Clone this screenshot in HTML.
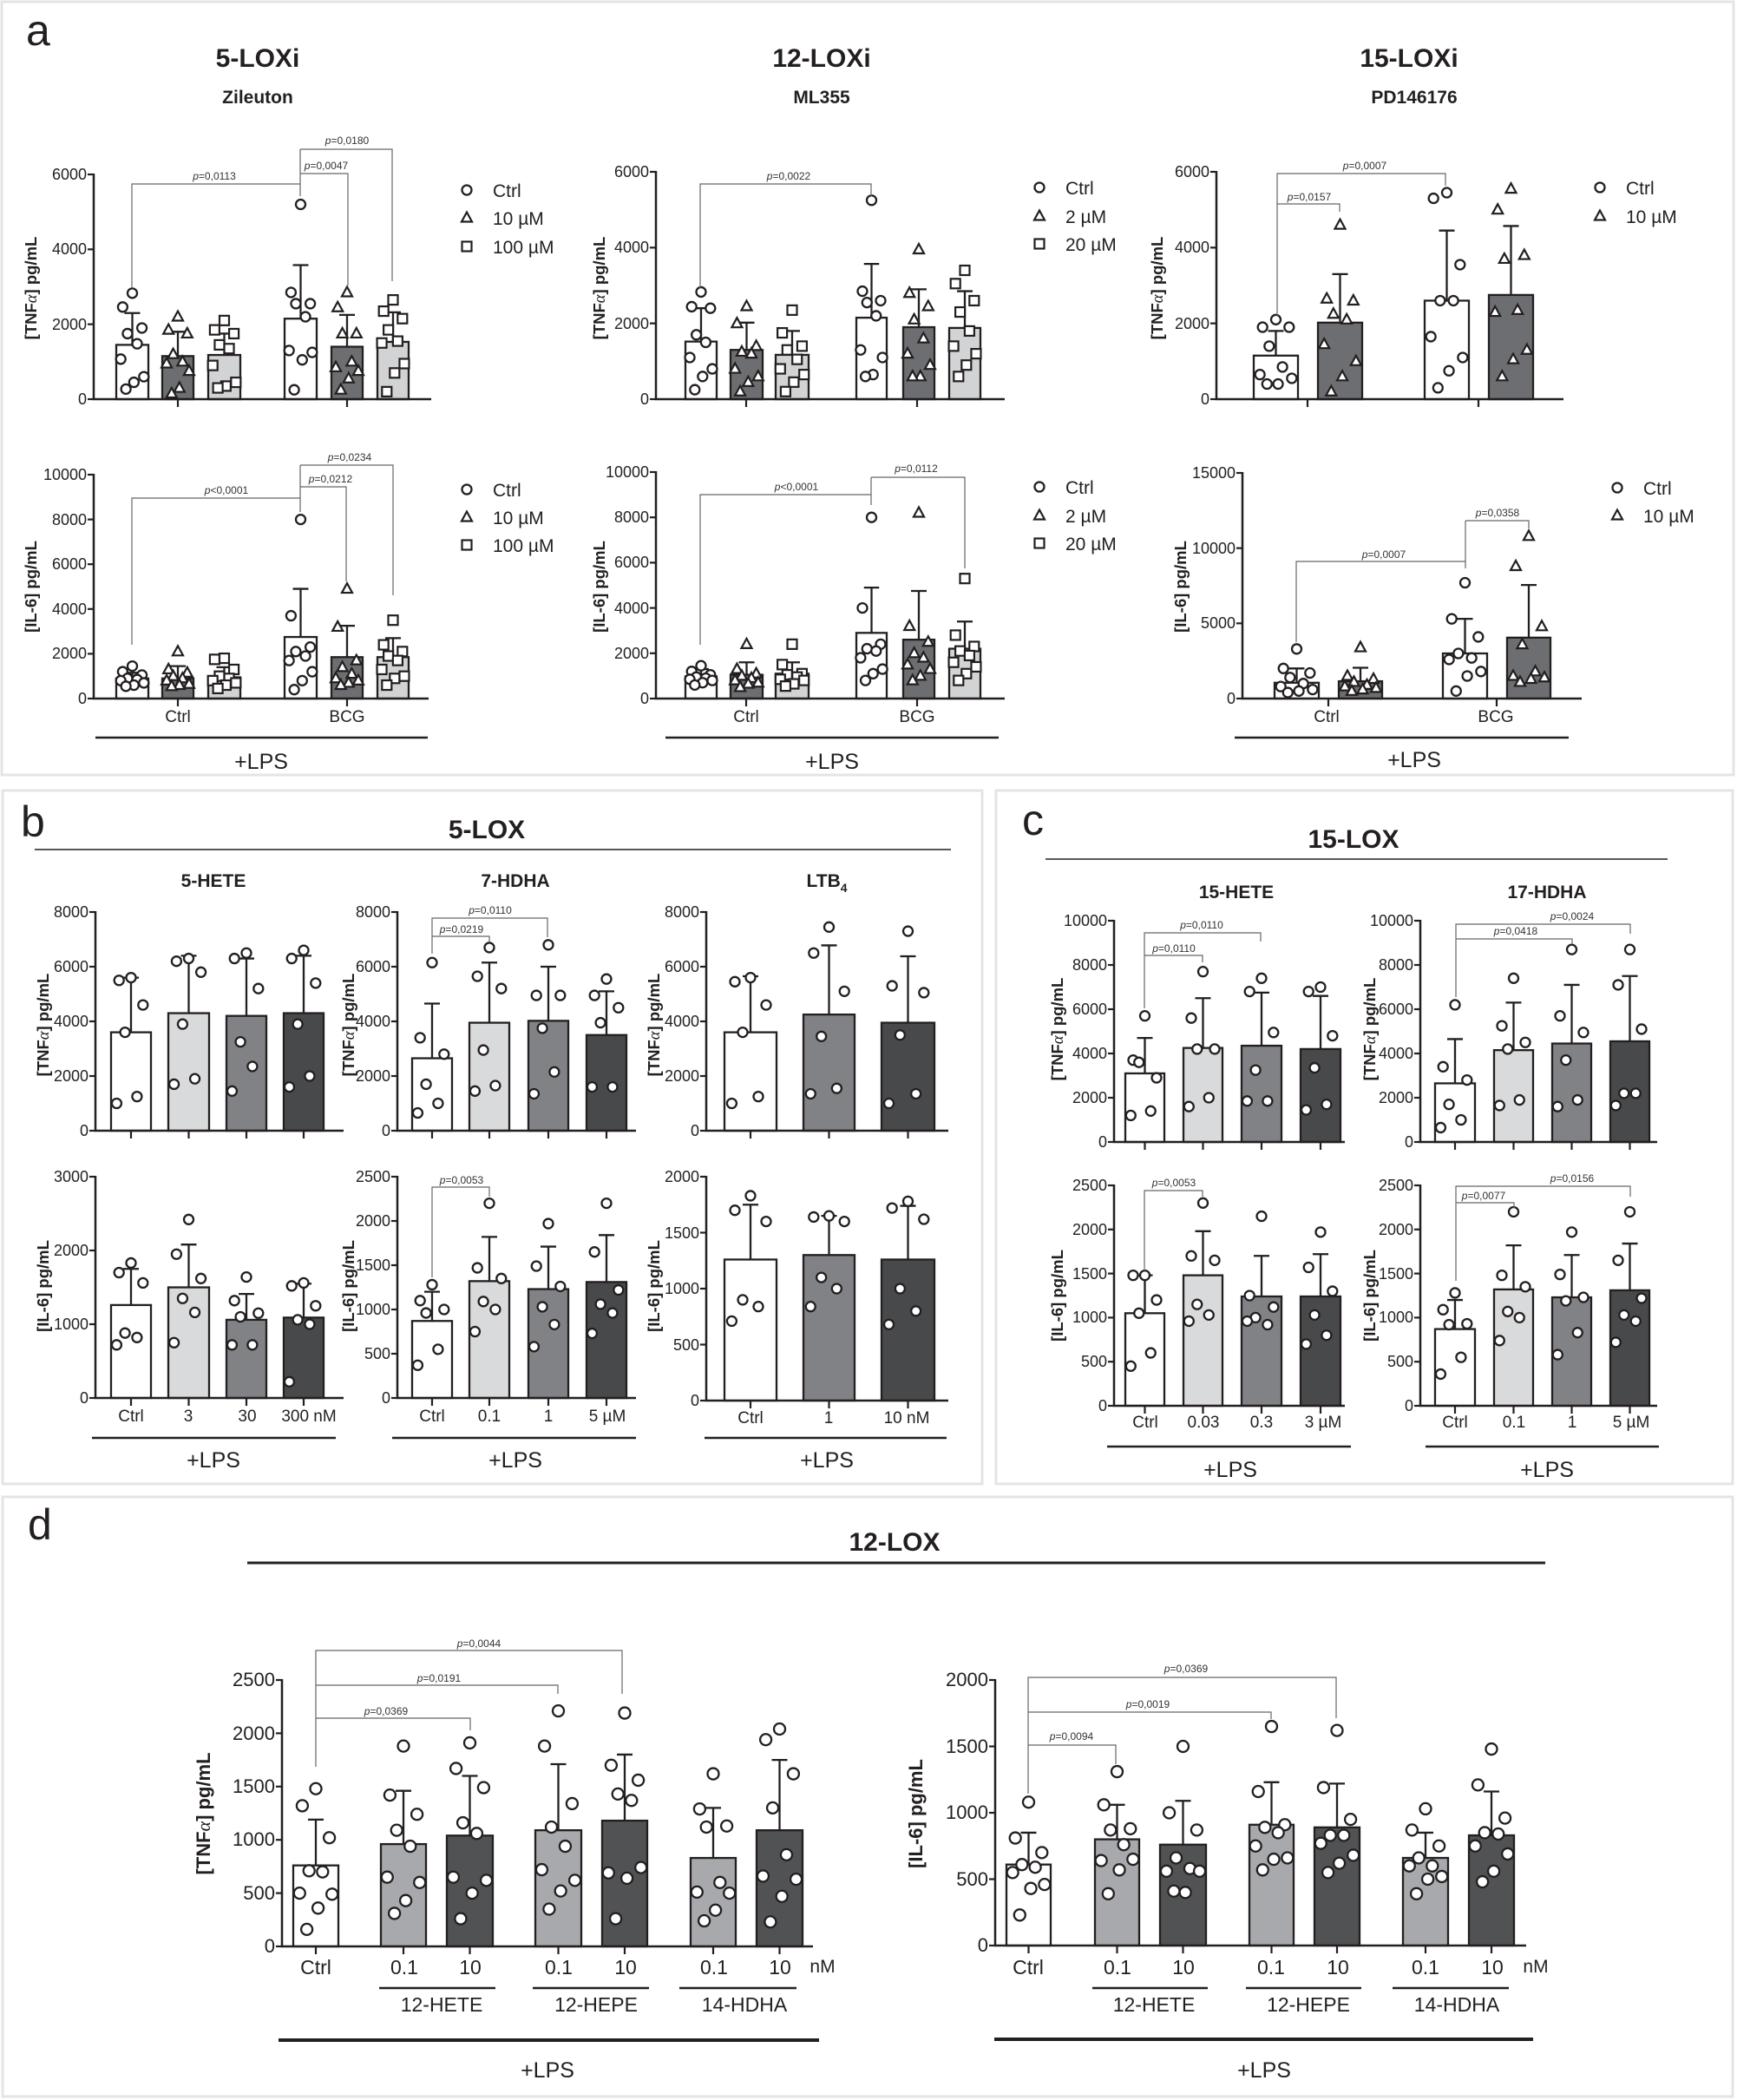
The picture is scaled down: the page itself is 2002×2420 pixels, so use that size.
<!DOCTYPE html>
<html><head><meta charset="utf-8"><style>
html,body{margin:0;padding:0;background:#fff}
svg{display:block}
text{font-family:"Liberation Sans",Arial,sans-serif;fill:#231f20}
.t{font-size:18px;text-anchor:end}
.b{font-weight:bold}
.p{font-size:12px;text-anchor:middle;fill:#333}
.p tspan{font-style:italic}
.lg{font-size:21px}
.yl{font-size:18.5px;font-weight:bold;text-anchor:middle}
.xl{font-size:19px;text-anchor:middle}
.lps{font-size:25px;text-anchor:middle}
.ti{font-size:30px;font-weight:bold;text-anchor:middle}
.st{font-size:21px;font-weight:bold;text-anchor:middle}
.pl{font-size:50px}
.br{fill:none;stroke:#666;stroke-width:1.2}
.al{font-family:"Liberation Serif",serif;font-style:italic;font-weight:normal}
</style></head><body>
<svg id="s" width="2002" height="2420" viewBox="0 0 2002 2420" xmlns="http://www.w3.org/2000/svg">
<rect width="2002" height="2420" fill="#fff"/>
<g fill="none" stroke="#e3e4e5" stroke-width="3">
<rect x="2" y="2" width="1996" height="891"/>
<rect x="3" y="911" width="1129" height="799"/>
<rect x="1148" y="911" width="849" height="799"/>
<rect x="3" y="1725" width="1994" height="691"/>
</g>
<g id="g"></g>
<g class="br">
<path d="M152 332V212H346M346 172V226M346 200H401V329M346 172H452V324"/>
<path d="M152 743V574H346M346 536V590M346 561H399V670M346 536H453V686"/>
<path d="M807 332V212H1004V226"/>
<path d="M807 743V570H1004M1004 550V582M1004 550H1112V655"/>
<path d="M1472 364V200H1666V214M1472 235H1544V244"/>
<path d="M1494 740V647H1689M1689 600V655M1689 600H1762V609"/>
<path d="M498 1099V1058H631V1080M498 1079H564V1085"/>
<path d="M498 1472V1368H564V1379"/>
<path d="M1319 1162V1075H1453V1085M1319 1101H1386V1109"/>
<path d="M1319 1464V1372H1386V1379"/>
<path d="M1678 1149V1065H1879V1076M1678 1082H1812V1088"/>
<path d="M1678 1476V1367H1879V1379M1678 1386H1745V1392"/>
<path d="M364 2036V1902H717V1952M364 1942H643V1952M364 1980H542V1994"/>
<path d="M1185 2067V1933H1540V1980M1185 1973H1465V1981M1185 2011H1286V2033"/>
</g>
<g>
<text class="p" x="247" y="207"><tspan>p</tspan>=0,0113</text>
<text class="p" x="376" y="195"><tspan>p</tspan>=0,0047</text>
<text class="p" x="400" y="166"><tspan>p</tspan>=0,0180</text>
<text class="p" x="261" y="569"><tspan>p</tspan>&lt;0,0001</text>
<text class="p" x="381" y="556"><tspan>p</tspan>=0,0212</text>
<text class="p" x="403" y="531"><tspan>p</tspan>=0,0234</text>
<text class="p" x="909" y="207"><tspan>p</tspan>=0,0022</text>
<text class="p" x="918" y="565"><tspan>p</tspan>&lt;0,0001</text>
<text class="p" x="1056" y="544"><tspan>p</tspan>=0,0112</text>
<text class="p" x="1573" y="195"><tspan>p</tspan>=0,0007</text>
<text class="p" x="1509" y="231"><tspan>p</tspan>=0,0157</text>
<text class="p" x="1595" y="643"><tspan>p</tspan>=0,0007</text>
<text class="p" x="1726" y="595"><tspan>p</tspan>=0,0358</text>
<text class="p" x="565" y="1053"><tspan>p</tspan>=0,0110</text>
<text class="p" x="532" y="1075"><tspan>p</tspan>=0,0219</text>
<text class="p" x="532" y="1364"><tspan>p</tspan>=0,0053</text>
<text class="p" x="1385" y="1070"><tspan>p</tspan>=0,0110</text>
<text class="p" x="1353" y="1097"><tspan>p</tspan>=0,0110</text>
<text class="p" x="1353" y="1367"><tspan>p</tspan>=0,0053</text>
<text class="p" x="1812" y="1060"><tspan>p</tspan>=0,0024</text>
<text class="p" x="1747" y="1077"><tspan>p</tspan>=0,0418</text>
<text class="p" x="1812" y="1362"><tspan>p</tspan>=0,0156</text>
<text class="p" x="1710" y="1382"><tspan>p</tspan>=0,0077</text>
<text class="p" x="552" y="1898"><tspan>p</tspan>=0,0044</text>
<text class="p" x="506" y="1938"><tspan>p</tspan>=0,0191</text>
<text class="p" x="445" y="1976"><tspan>p</tspan>=0,0369</text>
<text class="p" x="1367" y="1927"><tspan>p</tspan>=0,0369</text>
<text class="p" x="1323" y="1968"><tspan>p</tspan>=0,0019</text>
<text class="p" x="1235" y="2005"><tspan>p</tspan>=0,0094</text>
</g>
<text class="pl" x="30" y="52">a</text>
<text class="pl" x="24" y="964">b</text>
<text class="pl" x="1178" y="962">c</text>
<text class="pl" x="32" y="1774">d</text>
<text class="ti" x="297" y="77">5-LOXi</text>
<text class="ti" x="947" y="77">12-LOXi</text>
<text class="ti" x="1624" y="77">15-LOXi</text>
<text class="st" x="297" y="119">Zileuton</text>
<text class="st" x="947" y="119">ML355</text>
<text class="st" x="1630" y="119">PD146176</text>
<text class="ti" x="561" y="966">5-LOX</text>
<text class="ti" x="1560" y="977">15-LOX</text>
<text class="ti" x="1031" y="1787">12-LOX</text>
<g stroke="#231f20" stroke-width="1.5"><line x1="40" y1="979" x2="1096" y2="979"/><line x1="1205" y1="990" x2="1922" y2="990"/></g>
<line x1="285" y1="1801" x2="1781" y2="1801" stroke="#231f20" stroke-width="3"/>
<text class="st" x="246" y="1022">5-HETE</text>
<text class="st" x="594" y="1022">7-HDHA</text>
<text class="st" x="953" y="1022">LTB<tspan font-size="14" dy="6">4</tspan></text>
<text class="st" x="1425" y="1035">15-HETE</text>
<text class="st" x="1783" y="1035">17-HDHA</text>
<g class="lg">
<text x="568" y="227">Ctrl</text><text x="568" y="259">10 µM</text><text x="568" y="292">100 µM</text>
<text x="568" y="572">Ctrl</text><text x="568" y="604">10 µM</text><text x="568" y="636">100 µM</text>
<text x="1228" y="224">Ctrl</text><text x="1228" y="257">2 µM</text><text x="1228" y="289">20 µM</text>
<text x="1228" y="569">Ctrl</text><text x="1228" y="602">2 µM</text><text x="1228" y="634">20 µM</text>
<text x="1874" y="224">Ctrl</text><text x="1874" y="257">10 µM</text>
<text x="1894" y="570">Ctrl</text><text x="1894" y="602">10 µM</text>
</g>
<g class="yl">
<text transform="translate(42,332) rotate(-90)">[TNF<tspan class="al">α</tspan>] pg/mL</text>
<text transform="translate(42,676) rotate(-90)">[IL-6] pg/mL</text>
<text transform="translate(697,332) rotate(-90)">[TNF<tspan class="al">α</tspan>] pg/mL</text>
<text transform="translate(697,676) rotate(-90)">[IL-6] pg/mL</text>
<text transform="translate(1340,332) rotate(-90)">[TNF<tspan class="al">α</tspan>] pg/mL</text>
<text transform="translate(1367,676) rotate(-90)">[IL-6] pg/mL</text>
<text transform="translate(56,1181) rotate(-90)">[TNF<tspan class="al">α</tspan>] pg/mL</text>
<text transform="translate(56,1482) rotate(-90)">[IL-6] pg/mL</text>
<text transform="translate(408,1181) rotate(-90)">[TNF<tspan class="al">α</tspan>] pg/mL</text>
<text transform="translate(408,1482) rotate(-90)">[IL-6] pg/mL</text>
<text transform="translate(760,1181) rotate(-90)">[TNF<tspan class="al">α</tspan>] pg/mL</text>
<text transform="translate(760,1482) rotate(-90)">[IL-6] pg/mL</text>
<text transform="translate(1225,1186) rotate(-90)">[TNF<tspan class="al">α</tspan>] pg/mL</text>
<text transform="translate(1225,1493) rotate(-90)">[IL-6] pg/mL</text>
<text transform="translate(1585,1186) rotate(-90)">[TNF<tspan class="al">α</tspan>] pg/mL</text>
<text transform="translate(1585,1493) rotate(-90)">[IL-6] pg/mL</text>
<text style="font-size:22px" transform="translate(242,2090) rotate(-90)">[TNF<tspan class="al">α</tspan>] pg/mL</text>
<text style="font-size:22px" transform="translate(1063,2090) rotate(-90)">[IL-6] pg/mL</text>
</g>
<g class="t">
<text x="100" y="466">0</text><text x="100" y="380">2000</text><text x="100" y="293">4000</text><text x="100" y="207">6000</text>
<text x="100" y="811">0</text><text x="100" y="759">2000</text><text x="100" y="708">4000</text><text x="100" y="656">6000</text><text x="100" y="605">8000</text><text x="100" y="553">10000</text>
<text x="748" y="466">0</text><text x="748" y="379">2000</text><text x="748" y="291">4000</text><text x="748" y="204">6000</text>
<text x="748" y="811">0</text><text x="748" y="759">2000</text><text x="748" y="707">4000</text><text x="748" y="654">6000</text><text x="748" y="602">8000</text><text x="748" y="550">10000</text>
<text x="1394" y="466">0</text><text x="1394" y="379">2000</text><text x="1394" y="291">4000</text><text x="1394" y="204">6000</text>
<text x="1424" y="811">0</text><text x="1424" y="724">5000</text><text x="1424" y="638">10000</text><text x="1424" y="551">15000</text>
<text x="102" y="1309">0</text><text x="102" y="1246">2000</text><text x="102" y="1183">4000</text><text x="102" y="1120">6000</text><text x="102" y="1057">8000</text>
<text x="102" y="1617">0</text><text x="102" y="1532">1000</text><text x="102" y="1447">2000</text><text x="102" y="1362">3000</text>
<text x="450" y="1309">0</text><text x="450" y="1246">2000</text><text x="450" y="1183">4000</text><text x="450" y="1120">6000</text><text x="450" y="1057">8000</text>
<text x="450" y="1617">0</text><text x="450" y="1566">500</text><text x="450" y="1515">1000</text><text x="450" y="1464">1500</text><text x="450" y="1413">2000</text><text x="450" y="1362">2500</text>
<text x="806" y="1309">0</text><text x="806" y="1246">2000</text><text x="806" y="1183">4000</text><text x="806" y="1120">6000</text><text x="806" y="1057">8000</text>
<text x="806" y="1620">0</text><text x="806" y="1556">500</text><text x="806" y="1491">1000</text><text x="806" y="1427">1500</text><text x="806" y="1362">2000</text>
<text x="1276" y="1322">0</text><text x="1276" y="1271">2000</text><text x="1276" y="1220">4000</text><text x="1276" y="1169">6000</text><text x="1276" y="1118">8000</text><text x="1276" y="1067">10000</text>
<text x="1276" y="1626">0</text><text x="1276" y="1575">500</text><text x="1276" y="1524">1000</text><text x="1276" y="1474">1500</text><text x="1276" y="1423">2000</text><text x="1276" y="1372">2500</text>
<text x="1629" y="1322">0</text><text x="1629" y="1271">2000</text><text x="1629" y="1220">4000</text><text x="1629" y="1169">6000</text><text x="1629" y="1118">8000</text><text x="1629" y="1067">10000</text>
<text x="1629" y="1626">0</text><text x="1629" y="1575">500</text><text x="1629" y="1524">1000</text><text x="1629" y="1474">1500</text><text x="1629" y="1423">2000</text><text x="1629" y="1372">2500</text>
</g>
<g class="t" style="font-size:22px">
<text x="317" y="2250">0</text><text x="317" y="2189">500</text><text x="317" y="2127">1000</text><text x="317" y="2066">1500</text><text x="317" y="2005">2000</text><text x="317" y="1943">2500</text>
<text x="1139" y="2249">0</text><text x="1139" y="2173">500</text><text x="1139" y="2096">1000</text><text x="1139" y="2020">1500</text><text x="1139" y="1943">2000</text>
</g>
<g class="xl">
<text x="205" y="832">Ctrl</text><text x="400" y="832">BCG</text>
<text x="860" y="832">Ctrl</text><text x="1057" y="832">BCG</text>
<text x="1529" y="832">Ctrl</text><text x="1724" y="832">BCG</text>
<text x="151" y="1638">Ctrl</text><text x="217" y="1638">3</text><text x="285" y="1638">30</text><text x="356" y="1638">300 nM</text>
<text x="498" y="1638">Ctrl</text><text x="564" y="1638">0.1</text><text x="632" y="1638">1</text><text x="700" y="1638">5 µM</text>
<text x="865" y="1640">Ctrl</text><text x="955" y="1640">1</text><text x="1045" y="1640">10 nM</text>
<text x="1320" y="1645">Ctrl</text><text x="1387" y="1645">0.03</text><text x="1454" y="1645">0.3</text><text x="1525" y="1645">3 µM</text>
<text x="1677" y="1645">Ctrl</text><text x="1745" y="1645">0.1</text><text x="1812" y="1645">1</text><text x="1880" y="1645">5 µM</text>
</g>
<g class="xl" style="font-size:23px">
<text x="364" y="2275">Ctrl</text><text x="466" y="2275">0.1</text><text x="542" y="2275">10</text><text x="644" y="2275">0.1</text><text x="721" y="2275">10</text><text x="823" y="2275">0.1</text><text x="899" y="2275">10</text><text x="948" y="2273" style="font-size:21px">nM</text>
<text x="1185" y="2275">Ctrl</text><text x="1288" y="2275">0.1</text><text x="1364" y="2275">10</text><text x="1465" y="2275">0.1</text><text x="1542" y="2275">10</text><text x="1643" y="2275">0.1</text><text x="1720" y="2275">10</text><text x="1770" y="2273" style="font-size:21px">nM</text>
<text x="509" y="2318">12-HETE</text><text x="687" y="2318">12-HEPE</text><text x="858" y="2318">14-HDHA</text>
<text x="1330" y="2318">12-HETE</text><text x="1508" y="2318">12-HEPE</text><text x="1679" y="2318">14-HDHA</text>
</g>
<g stroke="#231f20" stroke-width="2.5">
<line x1="110" y1="850" x2="493" y2="850"/><line x1="767" y1="850" x2="1151" y2="850"/><line x1="1423" y1="850" x2="1808" y2="850"/>
<line x1="106" y1="1657" x2="387" y2="1657"/><line x1="452" y1="1657" x2="733" y2="1657"/><line x1="812" y1="1657" x2="1091" y2="1657"/>
<line x1="1276" y1="1667" x2="1557" y2="1667"/><line x1="1643" y1="1667" x2="1912" y2="1667"/>
<line x1="437" y1="2291" x2="571" y2="2291"/><line x1="614" y1="2291" x2="748" y2="2291"/><line x1="783" y1="2291" x2="918" y2="2291"/>
<line x1="1259" y1="2291" x2="1392" y2="2291"/><line x1="1436" y1="2291" x2="1569" y2="2291"/><line x1="1605" y1="2291" x2="1739" y2="2291"/>
</g>
<g stroke="#231f20" stroke-width="4"><line x1="321" y1="2351" x2="944" y2="2351"/><line x1="1146" y1="2350" x2="1767" y2="2350"/></g>
<g class="lps">
<text x="301" y="886">+LPS</text><text x="959" y="886">+LPS</text><text x="1630" y="884">+LPS</text>
<text x="246" y="1691">+LPS</text><text x="594" y="1691">+LPS</text><text x="953" y="1691">+LPS</text>
<text x="1418" y="1702">+LPS</text><text x="1783" y="1702">+LPS</text>
<text x="631" y="2394">+LPS</text><text x="1457" y="2394">+LPS</text>
</g>
</svg>
<script>
(function(){
var S='#231f20',out='';
var J=[0,-.3,.3,-.15,.15,-.36,.36,.05,-.2];
function mark(m,x,y,r){
 if(m==1)return '<polygon points="'+x+','+(y-6.5)+' '+(x-6)+','+(y+4.5)+' '+(x+6)+','+(y+4.5)+'" fill="#fff" stroke="'+S+'" stroke-width="2.2"/>';
 if(m==2)return '<rect x="'+(x-5.5)+'" y="'+(y-5.5)+'" width="11" height="11" fill="#fff" stroke="'+S+'" stroke-width="2.2"/>';
 return '<circle cx="'+x+'" cy="'+y+'" r="'+r+'" fill="#fff" stroke="'+S+'" stroke-width="2.3"/>';
}
function P(o){
 var y=function(v){return o.y0-v/o.max*(o.y0-o.yT)};
 var g='',pts='';
 o.bars.forEach(function(b,i){
  var x1=b[0][0],x2=b[0][1],w=x2-x1,cx=(x1+x2)/2,v=b[1],e=b[2];
  g+='<rect x="'+x1+'" y="'+y(v)+'" width="'+w+'" height="'+(o.y0-y(v))+'" fill="'+b[3]+'" stroke="'+S+'" stroke-width="2.3"/>';
  var cw=Math.min(9,w*0.25);
  g+='<path d="M'+cx+' '+y(v)+'V'+y(e)+'M'+(cx-cw)+' '+y(e)+'H'+(cx+cw)+'" stroke="'+S+'" stroke-width="2.3" fill="none"/>';
  var m=o.mk?o.mk[i]:0;
  b[4].forEach(function(p,k){pts+=mark(m,cx+J[k%9]*w*1.0,y(p),o.r||5.5);});
 });
 g+=pts;
 g+='<path d="M'+o.ax+' '+(o.yT-1)+'V'+o.y0+'H'+o.xe+'" stroke="'+S+'" stroke-width="2.5" fill="none"/>';
 o.t.forEach(function(v){g+='<line x1="'+(o.ax-7)+'" x2="'+o.ax+'" y1="'+y(v)+'" y2="'+y(v)+'" stroke="'+S+'" stroke-width="2.2"/>';});
 o.xt.forEach(function(x){g+='<line x1="'+x+'" x2="'+x+'" y1="'+o.y0+'" y2="'+(o.y0+9)+'" stroke="'+S+'" stroke-width="2.2"/>';});
 out+=g;
}
function B(xs,v,e,f,p){return xs.map(function(x,i){return [x,v[i],e[i],f[i],p[i]];});}
var W='#fff',D='#6d6e71',L='#d1d3d4';
var fa=[W,D,L,W,D,L];
var A1x=[[134,171],[187,223],[240,277],[328,365],[382,418],[435,471]];
var A2x=[[790,826],[842,879],[894,932],[987,1022],[1041,1077],[1094,1130]];
var mk3=[0,1,2,0,1,2];
P({ax:108,y0:460,yT:201,max:6000,xe:497,t:[0,2000,4000,6000],xt:[205,400],mk:mk3,
 bars:B(A1x,[1450,1150,1180,2150,1400,1530],[2300,1800,1750,3580,2250,2320],fa,
 [[2830,2460,1900,1750,1480,1070,600,450,270],[2200,1850,1750,1200,1000,950,750,300,150],[2100,1850,1750,1450,1350,900,450,350,300],[5200,2850,2550,2550,2200,1300,1250,1050,250],[2850,2450,1750,1750,1000,850,750,550,250],[2650,2350,2150,1850,1550,1500,950,700,200]])});
P({ax:108,y0:805,yT:547,max:10000,xe:494,t:[0,2000,4000,6000,8000,10000],xt:[205,400],mk:mk3,
 bars:B(A1x,[900,900,950,2750,1850,1850],[1150,1450,1400,4900,3250,2700],fa,
 [[1450,1200,1050,900,850,800,700,600,550],[2100,1300,1150,1000,900,800,650,600,550],[1800,1750,1300,1000,900,800,700,600,450],[8000,3700,2300,2100,1900,1700,1200,800,400],[4900,3200,1700,1400,1100,900,800,700,600],[3500,2400,2100,1900,1700,1300,1000,900,600]])});
P({ax:756,y0:460,yT:198,max:6000,xe:1158,t:[0,2000,4000,6000],xt:[860,1057],mk:mk3,
 bars:B(A2x,[1520,1300,1170,2150,1900,1880],[2400,2020,1800,3570,2900,2850],fa,
 [[2830,2440,2400,1700,1500,1100,800,600,250],[2450,2000,1400,1250,1200,800,600,450,200],[2350,1750,1400,1300,1050,800,650,450,200],[5250,2850,2600,2550,2200,1300,1100,650,600],[3950,2800,2450,2100,1600,1200,900,600,600],[3400,3050,2600,2300,1800,1400,1200,900,600]])});
P({ax:756,y0:805,yT:544,max:10000,xe:1158,t:[0,2000,4000,6000,8000,10000],xt:[860,1057],mk:mk3,
 bars:B(A2x,[980,1050,1100,2900,2600,2200],[1300,1600,1600,4900,4750,3400],fa,
 [[1450,1200,1050,950,900,850,800,700,600],[2400,1300,1100,1000,900,800,700,650,500],[2400,1500,1100,1050,950,850,800,650,550],[8000,4000,2400,2200,2100,1800,1300,1100,800],[8200,3200,2500,2000,1800,1500,1300,1000,800],[5300,2800,2300,2100,1900,1600,1400,1100,800]])});
P({ax:1402,y0:460,yT:198,max:6000,xe:1802,t:[0,2000,4000,6000],xt:[1507,1704],mk:[0,1,0,1],
 bars:B([[1445,1496],[1519,1570],[1642,1693],[1716,1767]],[1150,2020,2600,2750],[1800,3300,4450,4570],[W,D,W,D],
 [[2100,1900,1900,1400,850,650,550,400,400],[4600,2650,2600,2250,2100,1450,1000,600,200],[5450,5300,3550,2600,2600,1650,1100,750,300],[5550,5000,3800,3700,2350,2300,1300,1050,600]])});
P({ax:1432,y0:805,yT:545,max:15000,xe:1823,t:[0,5000,10000,15000],xt:[1531,1725],mk:[0,1,0,1],
 bars:B([[1469,1520],[1543,1593],[1663,1714],[1737,1787]],[1050,1150,3000,4050],[2000,2050,5300,7550],[W,D,W,D],
 [[3300,2000,1700,1400,1000,800,600,500,400],[3400,1500,1300,1100,900,800,700,600,500],[7700,5300,4100,3000,2700,2600,1800,1500,500],[10800,8800,4800,3600,1800,1500,1400,1300,1100]])});
var b4=[W,'#d9dadb','#808285','#48494b'];
var B1x=[[128,174],[194,241],[261,307],[327,373]],B2x=[[475,521],[541,587],[609,655],[676,722]],B3x=[[835,895],[926,985],[1016,1077]];
function cs(x){return x.map(function(a){return (a[0]+a[1])/2;});}
P({ax:110,y0:1303,yT:1051,max:8000,xe:396,t:[0,2000,4000,6000,8000],xt:cs(B1x),
 bars:B(B1x,[3600,4300,4200,4300],[5600,6400,6300,6400],b4,[[5600,5500,4600,3600,1250,1000],[6300,6200,5800,3900,1900,1700],[6500,6300,5200,3250,2350,1450],[6600,6300,5400,3900,2000,1600]])});
P({ax:110,y0:1611,yT:1356,max:3000,xe:396,t:[0,1000,2000,3000],xt:cs(B1x),
 bars:B(B1x,[1260,1500,1060,1090],[1750,2080,1410,1550],b4,[[1830,1700,1560,880,820,720],[2420,1950,1620,1350,1160,750],[1640,1320,1150,1100,720,720],[1560,1520,1250,1060,1000,220]])});
P({ax:458,y0:1303,yT:1051,max:8000,xe:733,t:[0,2000,4000,6000,8000],xt:cs(B2x),
 bars:B(B2x,[2650,3950,4020,3500],[4650,6150,6000,5100],b4,[[6150,3400,2800,1700,1000,650],[6700,5650,5200,2950,1650,1450],[6800,4950,4950,3750,2150,1350],[5550,4950,4500,3950,1600,1600]])});
P({ax:458,y0:1611,yT:1356,max:2500,xe:733,t:[0,500,1000,1500,2000,2500],xt:cs(B2x),
 bars:B(B2x,[870,1320,1230,1310],[1200,1820,1710,1840],b4,[[1280,1100,1000,960,550,370],[2200,1470,1350,1090,1000,750],[1970,1490,1260,1030,830,580],[2200,1650,1220,1060,960,730]])});
var b3=[W,'#808285','#48494b'];
P({ax:814,y0:1303,yT:1051,max:8000,xe:1093,t:[0,2000,4000,6000,8000],xt:cs(B3x),
 bars:B(B3x,[3600,4250,3950],[5650,6780,6380],b3,[[5600,5450,4600,3600,1250,1000],[7450,6500,5100,3450,1550,1350],[7300,5300,5050,3500,1350,1000]])});
P({ax:814,y0:1614,yT:1356,max:2000,xe:1093,t:[0,500,1000,1500,2000],xt:cs(B3x),
 bars:B(B3x,[1260,1300,1260],[1750,1650,1740],b3,[[1830,1700,1600,900,840,710],[1650,1640,1600,1100,1000,840],[1780,1720,1620,1000,800,680]])});
var C1x=[[1297,1342],[1364,1409],[1431,1477],[1499,1545]],C2x=[[1654,1700],[1722,1767],[1789,1834],[1856,1901]];
P({ax:1284,y0:1316,yT:1061,max:10000,xe:1550,t:[0,2000,4000,6000,8000,10000],xt:cs(C1x),
 bars:B(C1x,[3100,4250,4350,4200],[4700,6500,6750,6600],b4,[[5700,3700,2900,3600,1400,1200],[7700,5600,4200,4200,2000,1600],[7400,6800,4950,3250,1850,1850],[7000,6800,4800,3350,1700,1450]])});
P({ax:1284,y0:1620,yT:1366,max:2500,xe:1550,t:[0,500,1000,1500,2000,2500],xt:cs(C1x),
 bars:B(C1x,[1050,1480,1240,1240],[1480,1980,1700,1720],b4,[[1480,1480,1200,1050,600,450],[2300,1700,1650,1150,1030,960],[2150,1250,1120,1000,920,960],[1970,1570,1300,1030,800,700]])});
P({ax:1637,y0:1316,yT:1061,max:10000,xe:1910,t:[0,2000,4000,6000,8000,10000],xt:cs(C2x),
 bars:B(C2x,[2650,4150,4450,4550],[4650,6300,7100,7500],b4,[[6200,3400,2800,1700,1000,650],[7400,5250,4500,4200,1900,1650],[8700,5700,4950,3700,1900,1600],[8700,7100,5100,2200,2200,1650]])});
P({ax:1637,y0:1620,yT:1366,max:2500,xe:1910,t:[0,500,1000,1500,2000,2500],xt:cs(C2x),
 bars:B(C2x,[870,1320,1230,1310],[1200,1820,1710,1840],b4,[[1280,1090,930,920,550,360],[2200,1480,1350,1070,1000,740],[1970,1490,1230,1190,830,580],[2200,1650,1220,1030,960,720]])});
var dc=[W,'#a7a9ac','#505254','#a7a9ac','#505254','#a7a9ac','#505254'];
var D1x=[[338,390],[439,491],[515,568],[617,670],[694,746],[796,848],[872,925]];
var D2x=[[1160,1211],[1262,1313],[1337,1390],[1440,1491],[1515,1567],[1617,1669],[1693,1745]];
P({ax:325,y0:2243,yT:1936,max:2500,xe:937,t:[0,500,1000,1500,2000,2500],xt:cs(D1x),r:6.5,
 bars:B(D1x,[760,960,1040,1090,1180,830,1090],[1190,1460,1600,1710,1800,1300,1750],dc,
 [[1480,1320,1020,710,700,500,490,360,160],[1880,1420,1240,1090,940,650,600,430,310],[1910,1670,1490,1160,1060,650,620,500,260],[2210,1880,1340,1120,940,720,620,520,350],[2190,1700,1560,1430,1370,690,740,640,260],[1620,1290,1130,1120,600,510,500,340,240],[2040,1940,1620,1300,860,660,630,470,230]])});
P({ax:1147,y0:2242,yT:1936,max:2000,xe:1759,t:[0,500,1000,1500,2000],xt:cs(D2x),r:6.5,
 bars:B(D2x,[610,800,760,910,890,660,830],[850,1060,1090,1230,1220,850,1160],dc,
 [[1080,810,700,610,590,550,460,430,230],[1310,1060,880,870,760,640,650,570,390],[1500,1000,870,660,580,560,560,400,410],[1650,1160,910,890,850,750,660,650,570],[1620,1190,950,830,830,770,680,620,550],[1030,870,750,660,600,600,520,500,390],[1480,1210,960,850,840,750,690,560,480]])});
var lm=[[538,219,0],[538,251,1],[538,284,2],[538,564,0],[538,596,1],[538,628,2],[1198,216,0],[1198,249,1],[1198,281,2],[1198,561,0],[1198,594,1],[1198,626,2],[1844,216,0],[1844,249,1],[1864,562,0],[1864,594,1]];
lm.forEach(function(a){out+=mark(a[2],a[0],a[1],5.5);});
document.getElementById('g').innerHTML=out;
})();
</script>
</body></html>
